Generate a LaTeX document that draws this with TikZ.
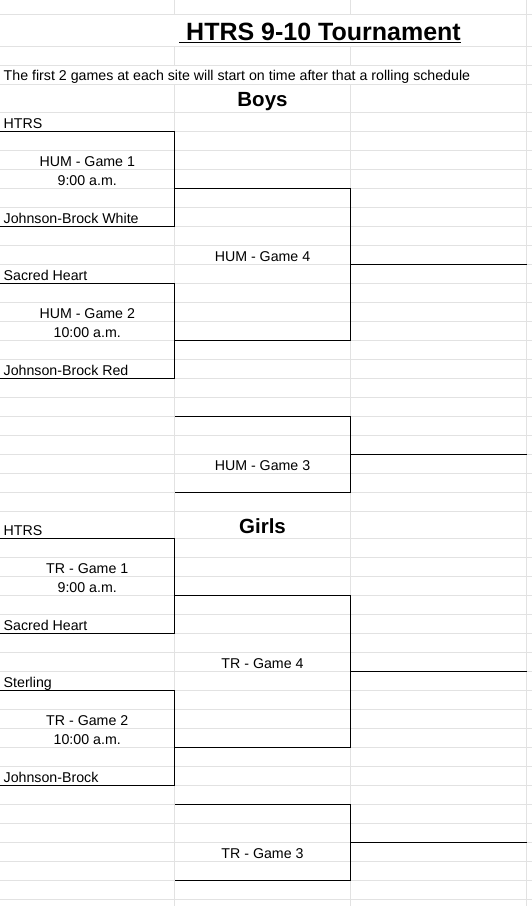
\documentclass[tikz,border=0pt]{standalone}
\usepackage{fontspec}
\setmainfont{Liberation Sans}
\begin{document}
\begin{tikzpicture}[x=1pt, y=-1pt,
    grid/.style={line width=1pt, gridgray},
    border/.style={line width=1.2pt, black},
    cell/.style={inner sep=0pt, anchor=base, yshift=-0.9pt, font=\fontsize{14.2}{17}\selectfont},
    team/.style={cell, anchor=base west},
    heading/.style={inner sep=0pt, anchor=base, yshift=-0.8pt, font=\bfseries\fontsize{20.5}{24}\selectfont}]
    \definecolor{gridgray}{RGB}{226, 226, 226} % Sheet grid

    % Sheet
    \fill[white] (0,0) rectangle (532,906);
    \useasboundingbox (0,0) rectangle (532,906);

    % Grid
    \foreach \y in {14, 46.7, 65.7, 84, 112.7}
        \draw[grid] (0,\y) -- (532,\y);
    \foreach \k in {0,...,20}
        \draw[grid] (0,131.7+19*\k) -- (532,131.7+19*\k);
    \foreach \k in {0,...,19}
        \draw[grid] (0,538.4+19*\k) -- (532,538.4+19*\k);
    \foreach \x in {174.5, 350.5}
        \draw[grid] (\x,0) -- (\x,14) (\x,46.7) -- (\x,65.7) (\x,84) -- (\x,906);
    \draw[grid] (526.5,0) -- (526.5,906);

    % Brackets
    \foreach \b/\g in {131.7/285, 538.4/266} {
        \draw[border] (0,\b) -- (174.5,\b) -- (174.5,\b+95) -- (0,\b+95);
        \draw[border] (0,\b+152) -- (174.5,\b+152) -- (174.5,\b+247) -- (0,\b+247);
        \draw[border] (174.5,\b+57) -- (350.5,\b+57) -- (350.5,\b+209) -- (174.5,\b+209);
        \draw[border] (350.5,\b+133) -- (526.5,\b+133);
        \draw[border] (174.5,\b+\g) -- (350.5,\b+\g) -- (350.5,\b+\g+76) -- (174.5,\b+\g+76);
        \draw[border] (350.5,\b+\g+38) -- (526.5,\b+\g+38);
    }

    % Title
    \node[inner sep=0pt, anchor=base west, font=\bfseries\fontsize{25}{30}\selectfont] (title) at (179,40) {\hspace{.28em}HTRS 9-10 Tournament};
    \draw[line width=1.6pt] ([yshift=-2.4pt]title.base west) -- ([yshift=-2.4pt]title.base east);
    \node[team] (note) at (3.5,80) {The first 2 games at each site will start on time after that a rolling schedule};

    % Boys
    \node[heading] (boys) at (262.5,105.5) {Boys};
    \node[team] (b1) at (3.5,127.7) {HTRS};
    \node[team] (b2) at (3.5,222.7) {Johnson-Brock White};
    \node[team] (b3) at (3.5,279.7) {Sacred Heart};
    \node[team] (b4) at (3.5,374.7) {Johnson-Brock Red};
    \node[cell] (bg1) at (87.25,165.7) {HUM - Game 1};
    \node[cell] (bt1) at (87.25,184.7) {9:00 a.m.};
    \node[cell] (bg2) at (87.25,317.7) {HUM - Game 2};
    \node[cell] (bt2) at (87.25,336.7) {10:00 a.m.};
    \node[cell] (bg4) at (262.5,260.7) {HUM - Game 4};
    \node[cell] (bg3) at (262.5,469.7) {HUM - Game 3};

    % Girls
    \node[heading] (girls) at (262.5,532.4) {Girls};
    \node[team] (g1) at (3.5,534.8) {HTRS};
    \node[team] (g2) at (3.5,629.4) {Sacred Heart};
    \node[team] (g3) at (3.5,686.4) {Sterling};
    \node[team] (g4) at (3.5,781.4) {Johnson-Brock};
    \node[cell] (gg1) at (87.25,572.4) {TR - Game 1};
    \node[cell] (gt1) at (87.25,591.4) {9:00 a.m.};
    \node[cell] (gg2) at (87.25,724.4) {TR - Game 2};
    \node[cell] (gt2) at (87.25,743.4) {10:00 a.m.};
    \node[cell] (gg4) at (262.5,667.4) {TR - Game 4};
    \node[cell] (gg3) at (262.5,857.4) {TR - Game 3};
\end{tikzpicture}
\end{document}
